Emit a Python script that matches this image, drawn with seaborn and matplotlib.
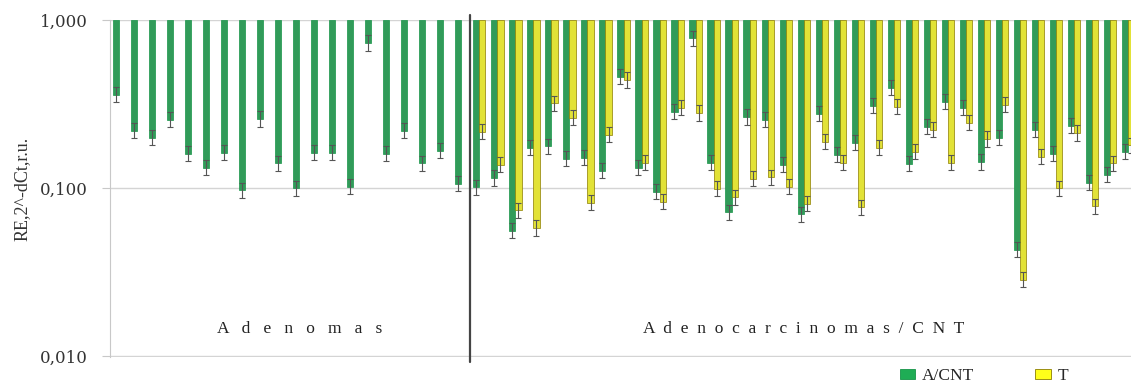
import matplotlib
matplotlib.use("Agg")
import matplotlib.pyplot as plt
import matplotlib.ticker as mticker
from matplotlib.patches import Patch
import seaborn as sns
import numpy as np
import pandas as pd

# ── Data (relative expression) ─────────────────────────────────────
SERIES = ["A/CNT", "T"]
GROUPS = ["Adenomas", "Adenocarcinomas/CNT"]

adenoma_acnt = [0.36, 0.22, 0.20, 0.255, 0.16, 0.132, 0.162, 0.097, 0.258, 0.141,
                0.10, 0.162, 0.162, 0.102, 0.73, 0.16, 0.22, 0.141, 0.167, 0.106]

carc_acnt = [0.101, 0.115, 0.056, 0.174, 0.177, 0.150, 0.152, 0.127, 0.46, 0.132,
             0.095, 0.284, 0.78, 0.142, 0.072, 0.265, 0.255, 0.138, 0.070, 0.277,
             0.158, 0.186, 0.31, 0.395, 0.140, 0.232, 0.327, 0.30, 0.143, 0.199,
             0.043, 0.222, 0.160, 0.235, 0.108, 0.120, 0.165]

carc_t = [0.217, 0.138, 0.074, 0.058, 0.32, 0.262, 0.082, 0.208, 0.44, 0.142,
          0.083, 0.30, 0.28, 0.099, 0.088, 0.114, 0.116, 0.102, 0.081, 0.189,
          0.142, 0.077, 0.174, 0.305, 0.165, 0.223, 0.142, 0.245, 0.196, 0.313,
          0.0286, 0.154, 0.100, 0.213, 0.078, 0.141, 0.180]

# error bar half-size, in decades (roughly the same for every bar)
err_dec = 0.045

y_ticks = [1.0, 0.1, 0.01]

COLORS = {"A/CNT": "#1fad55", "T": "#ffff1a"}
EDGES = {"A/CNT": "#169447", "T": "#8c7d00"}

# ── Build long table ───────────────────────────────────────────────
rows = []
n_ad = len(adenoma_acnt)
for i, v in enumerate(adenoma_acnt):
    rows.append((i, GROUPS[0], "A/CNT", v))
for j, (g, t) in enumerate(zip(carc_acnt, carc_t)):
    rows.append((n_ad + j, GROUPS[1], "A/CNT", g))
    rows.append((n_ad + j, GROUPS[1], "T", t))
df = pd.DataFrame(rows, columns=["sample", "group", "series", "value"])
df["logval"] = np.log10(df["value"])
n_samples = n_ad + len(carc_acnt)

# ── Style ──────────────────────────────────────────────────────────
sns.set_style("white")
plt.rcParams["font.family"] = ["Liberation Serif", "DejaVu Serif"]

fig = plt.figure(figsize=(11.31, 3.88), dpi=100)
ax = fig.add_axes([110 / 1131, 31 / 388, 1027 / 1131, 337 / 388])

sns.barplot(data=df, x="sample", y="logval", hue="series", hue_order=SERIES,
            order=list(range(n_samples)), palette=COLORS, width=0.68,
            errorbar=None, ax=ax, legend=False, zorder=3)

# edges + error bars per series
for cont, s in zip(ax.containers, SERIES):
    xs, hs = [], []
    for p in cont.patches:
        p.set_edgecolor(EDGES[s])
        p.set_linewidth(0.5)
        h = p.get_height()
        if np.isfinite(h):
            xs.append(p.get_x() + p.get_width() / 2)
            hs.append(h)
    ax.errorbar(xs, hs, yerr=err_dec, fmt="none", ecolor="#555555",
                elinewidth=0.8, capsize=2, capthick=0.8, zorder=4)

# ── Axes ───────────────────────────────────────────────────────────
ax.set_xlim(-0.5, n_samples - 0.5)
ax.set_ylim(np.log10(min(y_ticks)) - 0.004, np.log10(max(y_ticks)))
ax.set_yticks(np.log10(y_ticks))
ax.yaxis.set_major_formatter(mticker.FuncFormatter(
    lambda v, _: f"{10 ** v:.3f}".replace(".", ",")))
ax.tick_params(axis="y", length=6, width=0.8, color="#c8c8c8", pad=10,
               labelsize=12, labelcolor="#333333", left=True)
for lab in ax.get_yticklabels():
    lab.set_family("DejaVu Serif")
ax.set_xticks([])
ax.set_xlabel("")
ax.set_ylabel("RE,2^-dCt,r.u.", fontsize=13, labelpad=7, color="#333333")
ax.yaxis.grid(True, color="#d4d4d4", linewidth=1, zorder=0)
ax.set_axisbelow(True)
for side in ["top", "right", "bottom"]:
    ax.spines[side].set_visible(False)
ax.spines["left"].set_color("#c8c8c8")
ax.spines["left"].set_linewidth(0.8)

# group separator and labels
ax.axvline(n_ad - 0.5, ymin=-0.015, ymax=1.015, color="#444444", linewidth=1.6,
           clip_on=False, zorder=5)
ax.text((n_ad - 1) / 2 + 0.5, -1.84, "   ".join(GROUPS[0]), ha="center", va="center",
        fontsize=12.5, color="#222222")
ax.text(n_ad + (len(carc_acnt) - 1) / 2, -1.84, "  ".join(GROUPS[1]),
        ha="center", va="center", fontsize=12.5, color="#222222")

# legend
handles = [Patch(facecolor=COLORS[s], edgecolor=EDGES[s], linewidth=0.6, label=s)
           for s in SERIES]
fig.legend(handles=handles, loc="center", bbox_to_anchor=(0.87, 0.03), ncol=2,
           frameon=False, fontsize=12.5, handlelength=0.9, handleheight=0.5,
           handletextpad=0.4, columnspacing=3.5)

fig.savefig("out.png", dpi=100, facecolor="white")
